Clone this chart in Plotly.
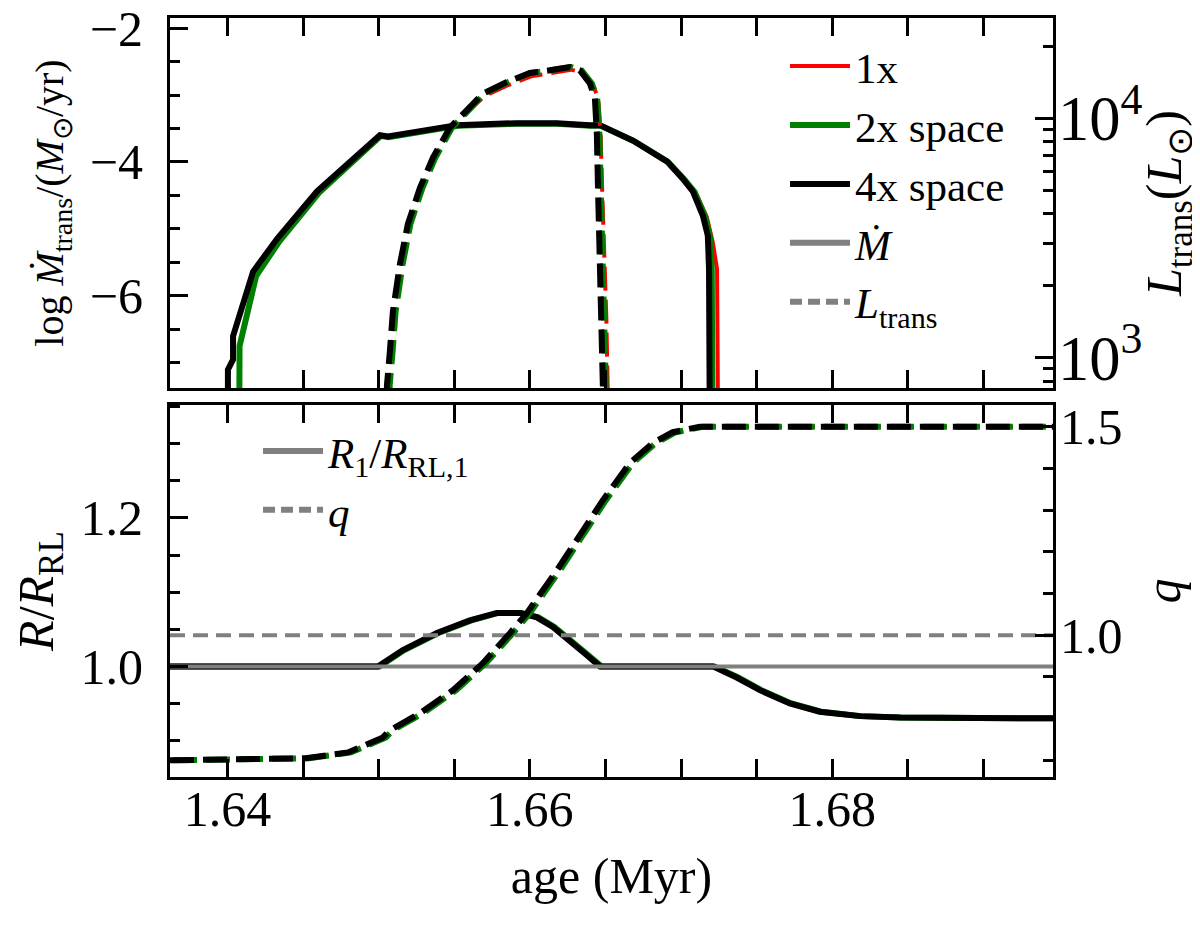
import plotly.graph_objects as go
from plotly.subplots import make_subplots

# -----------------------------
# DATA
# -----------------------------
AGE_RANGE = [1.6362, 1.6946]

# log(Mdot_trans / Msun/yr), left axis of the upper panel
mdot_age_4x = [1.64003, 1.64003, 1.64037, 1.64037, 1.64169, 1.64327, 1.64592, 1.64830, 1.65008, 1.65061,
               1.65425, 1.65517, 1.65914, 1.66179, 1.66397, 1.66463, 1.66681, 1.66906, 1.67011, 1.67078,
               1.67144, 1.67177, 1.67185, 1.67190]
mdot_4x = [-8.0, -7.1, -6.95, -6.60, -5.64, -5.15, -4.44, -3.95, -3.60, -3.62,
           -3.48, -3.45, -3.42, -3.42, -3.45, -3.45, -3.68, -3.99, -4.25, -4.44,
           -4.80, -5.10, -5.60, -8.0]
mdot_age_2x = [1.64078, 1.64080, 1.64190, 1.64345, 1.64605, 1.64840, 1.65015, 1.65065,
               1.65428, 1.65520, 1.65914, 1.66179, 1.66400, 1.66470, 1.66690, 1.66915, 1.67022, 1.67090,
               1.67160, 1.67195, 1.67203, 1.67208]
mdot_2x = [-8.0, -6.75, -5.70, -5.18, -4.46, -3.97, -3.61, -3.63,
           -3.49, -3.46, -3.43, -3.43, -3.46, -3.46, -3.69, -4.00, -4.26, -4.45,
           -4.82, -5.15, -5.60, -8.0]
mdot_age_1x = [1.64078, 1.64080, 1.64190, 1.64345, 1.64605, 1.64840, 1.65015, 1.65065,
               1.65428, 1.65520, 1.65914, 1.66179, 1.66400, 1.66470, 1.66690, 1.66915, 1.67022, 1.67095,
               1.67170, 1.67210, 1.67238, 1.67245]
mdot_1x = [-8.0, -6.75, -5.70, -5.18, -4.46, -3.97, -3.61, -3.63,
           -3.49, -3.46, -3.43, -3.43, -3.46, -3.46, -3.69, -4.00, -4.26, -4.45,
           -4.82, -5.20, -5.60, -8.0]

# L_trans (Lsun), right log axis of the upper panel
ltr_age_4x = [1.65050, 1.65055, 1.65074, 1.65094, 1.65141, 1.65193, 1.65273, 1.65359, 1.65471, 1.65557,
              1.65689, 1.65848, 1.66000, 1.66132, 1.66264, 1.66331, 1.66397, 1.66430, 1.66443, 1.66450,
              1.66463, 1.66476, 1.66490]
ltr_4x = [500, 770, 1060, 1560, 2470, 3620, 5130, 6860, 9160, 10500,
          12700, 14200, 15500, 15900, 16400, 15900, 14000, 12200, 8650, 5330,
          2790, 1460, 500]
ltr_age_2x = [1.65068, 1.65073, 1.65092, 1.65112, 1.65159, 1.65210, 1.65290, 1.65375, 1.65485, 1.65570,
              1.65700, 1.65858, 1.66008, 1.66140, 1.66272, 1.66342, 1.66410, 1.66445, 1.66460, 1.66468,
              1.66482, 1.66496, 1.66510]
ltr_2x = [500, 770, 1060, 1560, 2470, 3620, 5130, 6860, 9160, 10500,
          12700, 14200, 15500, 15900, 16400, 15900, 14000, 12200, 8650, 5330,
          2790, 1460, 500]
ltr_age_1x = [1.65068, 1.65073, 1.65092, 1.65112, 1.65159, 1.65210, 1.65290, 1.65375, 1.65485, 1.65570,
              1.65700, 1.65858, 1.66008, 1.66140, 1.66272, 1.66345, 1.66415, 1.66452, 1.66468, 1.66477,
              1.66492, 1.66506, 1.66520]
ltr_1x = [500, 770, 1060, 1560, 2470, 3620, 5130, 6860, 9160, 10400,
          12400, 13800, 15000, 15500, 16000, 15600, 13900, 12200, 8650, 5330,
          2790, 1460, 500]

# R1 / R_RL,1, left axis of the lower panel
rad_age_4x = [1.6362, 1.64995, 1.65160, 1.65385, 1.65603, 1.65782, 1.65934, 1.66046, 1.66152, 1.66264,
              1.66377, 1.66463, 1.67210, 1.67368, 1.67521, 1.67719, 1.67917, 1.68182, 1.68446, 1.6946]
rad_4x = [1.000, 1.000, 1.022, 1.045, 1.062, 1.072, 1.072, 1.066, 1.053, 1.035,
          1.015, 1.000, 1.000, 0.985, 0.968, 0.950, 0.939, 0.933, 0.931, 0.930]
rad_age_2x = [1.6362, 1.65005, 1.65170, 1.65395, 1.65613, 1.65792, 1.65944, 1.66056, 1.66162, 1.66274,
              1.66387, 1.66473, 1.67220, 1.67378, 1.67531, 1.67729, 1.67927, 1.68192, 1.68456, 1.6946]
rad_2x = [1.000, 1.000, 1.022, 1.045, 1.062, 1.072, 1.072, 1.066, 1.053, 1.035,
          1.015, 1.000, 1.000, 0.985, 0.968, 0.950, 0.939, 0.933, 0.931, 0.930]

# mass ratio q, right axis of the lower panel
q_age_4x = [1.6362, 1.64519, 1.64797, 1.65028, 1.65074, 1.65273, 1.65491, 1.65689, 1.65868,
            1.65980, 1.66179, 1.66350, 1.66483, 1.66661, 1.66813, 1.66945, 1.67124, 1.6946]
q_4x = [0.700, 0.705, 0.719, 0.755, 0.772, 0.813, 0.868, 0.933, 1.005,
        1.053, 1.156, 1.252, 1.324, 1.413, 1.461, 1.487, 1.500, 1.500]
q_age_2x = [1.6364, 1.64539, 1.64817, 1.65048, 1.65094, 1.65293, 1.65511, 1.65709, 1.65888,
            1.66000, 1.66199, 1.66370, 1.66503, 1.66681, 1.66833, 1.66965, 1.67144, 1.6948]
q_2x = [0.700, 0.705, 0.719, 0.755, 0.772, 0.813, 0.868, 0.933, 1.005,
        1.053, 1.156, 1.252, 1.324, 1.413, 1.461, 1.487, 1.500, 1.500]

RADIUS_REF = 1.0
Q_REF = 1.0

FONT = "Liberation Serif"
DASH = "24px,9px"
GREY = "#808080"


# -----------------------------
# BUILD FIGURE
# -----------------------------
def build_figure():

    fig = make_subplots(
        rows=2, cols=1, shared_xaxes=True,
        specs=[[{"secondary_y": True}], [{"secondary_y": True}]]
    )

    runs = [
        ("1x", "red", 4, mdot_age_1x, mdot_1x, ltr_age_1x, ltr_1x, rad_age_2x, rad_2x, q_age_2x, q_2x),
        ("2x space", "green", 6, mdot_age_2x, mdot_2x, ltr_age_2x, ltr_2x, rad_age_2x, rad_2x, q_age_2x, q_2x),
        ("4x space", "black", 6, mdot_age_4x, mdot_4x, ltr_age_4x, ltr_4x, rad_age_4x, rad_4x, q_age_4x, q_4x),
    ]

    # upper panel: Mdot (solid, left) and L_trans (dashed, right)
    for name, color, width, ma, mv, la, lv, ra, rv, qa, qv in runs:
        fig.add_trace(go.Scatter(
            x=ma, y=mv, name=name, mode="lines", legend="legend",
            line=dict(color=color, width=width)
        ), row=1, col=1, secondary_y=False)

    fig.add_trace(go.Scatter(
        x=[None], y=[None], name="<i>Ṁ</i>", mode="lines", legend="legend",
        line=dict(color=GREY, width=6)
    ), row=1, col=1, secondary_y=False)
    fig.add_trace(go.Scatter(
        x=[None], y=[None], name="<i>L</i><sub>trans</sub>", mode="lines", legend="legend",
        line=dict(color=GREY, width=6, dash="12px,6px")
    ), row=1, col=1, secondary_y=False)

    for name, color, width, ma, mv, la, lv, ra, rv, qa, qv in runs:
        fig.add_trace(go.Scatter(
            x=la, y=lv, name=name, mode="lines", showlegend=False,
            line=dict(color=color, width=width, dash=DASH)
        ), row=1, col=1, secondary_y=True)

    # lower panel: R/R_RL (solid, left) and q (dashed, right)
    for name, color, width, ma, mv, la, lv, ra, rv, qa, qv in runs:
        fig.add_trace(go.Scatter(
            x=ra, y=rv, name=name, mode="lines", showlegend=False,
            line=dict(color=color, width=width)
        ), row=2, col=1, secondary_y=False)

    fig.add_trace(go.Scatter(
        x=AGE_RANGE, y=[RADIUS_REF, RADIUS_REF], mode="lines", showlegend=False,
        line=dict(color=GREY, width=4)
    ), row=2, col=1, secondary_y=False)

    fig.add_trace(go.Scatter(
        x=AGE_RANGE, y=[Q_REF, Q_REF], mode="lines", showlegend=False,
        line=dict(color=GREY, width=4, dash="15px,8px")
    ), row=2, col=1, secondary_y=True)

    for name, color, width, ma, mv, la, lv, ra, rv, qa, qv in runs:
        fig.add_trace(go.Scatter(
            x=qa, y=qv, name=name, mode="lines", showlegend=False,
            line=dict(color=color, width=width, dash=DASH)
        ), row=2, col=1, secondary_y=True)

    fig.add_trace(go.Scatter(
        x=[None], y=[None], name="<i>R</i><sub>1</sub>/<i>R</i><sub>RL,1</sub>",
        mode="lines", legend="legend2", line=dict(color=GREY, width=6)
    ), row=2, col=1, secondary_y=False)
    fig.add_trace(go.Scatter(
        x=[None], y=[None], name="<i>q</i>",
        mode="lines", legend="legend2", line=dict(color=GREY, width=6, dash="12px,6px")
    ), row=2, col=1, secondary_y=False)

    # -----------------------------
    # AXES
    # -----------------------------
    tick_font = dict(family=FONT, size=50, color="black")
    title_font = dict(family=FONT, size=50, color="black")
    minor_ticks = dict(ticks="inside", ticklen=10, tickwidth=2.5, tickcolor="black")
    common = dict(
        showline=True, linecolor="black", linewidth=3,
        ticks="inside", ticklen=18, tickwidth=2.5, tickcolor="black",
        showgrid=False, zeroline=False, tickfont=tick_font, automargin=False,
        ticklabeloverflow="allow",
    )

    for row in (1, 2):
        fig.update_xaxes(
            range=AGE_RANGE, tick0=1.64, dtick=0.02, tickformat=".2f",
            mirror="allticks", ticklabelstandoff=-14,
            minor=dict(dtick=0.005, **minor_ticks),
            row=row, col=1, **common
        )
    fig.update_xaxes(showticklabels=False, row=1, col=1)
    fig.update_xaxes(
        title=dict(text="age (Myr)", font=title_font, standoff=22),
        row=2, col=1
    )

    fig.update_yaxes(
        range=[-7.375, -1.85], tick0=0, dtick=2, ticklabelstandoff=14,
        minor=dict(dtick=0.5, **minor_ticks),
        title=dict(text="log <i>Ṁ</i><sub>trans</sub>/(<i>M</i><sub>⊙</sub>/yr)",
                   font=dict(family=FONT, size=40, color="black"), standoff=14),
        row=1, col=1, secondary_y=False, **common
    )
    fig.update_yaxes(
        type="log", range=[2.874, 4.42], dtick=1, exponentformat="power",
        ticklabelstandoff=-8,
        minor=dict(dtick="D1", **minor_ticks),
        title=dict(text="<i>L</i><sub>trans</sub>(<i>L</i><sub>⊙</sub>)", font=title_font, standoff=0),
        row=1, col=1, secondary_y=True, **common
    )
    fig.update_yaxes(
        range=[0.851, 1.352], tick0=0, dtick=0.2, tickformat=".1f", ticklabelstandoff=14,
        minor=dict(dtick=0.05, **minor_ticks),
        title=dict(text="<i>R</i>/<i>R</i><sub>RL</sub>", font=title_font, standoff=16),
        row=2, col=1, secondary_y=False, **common
    )
    fig.update_yaxes(
        range=[0.66, 1.552], tick0=0, dtick=0.5, tickformat=".1f", ticklabelstandoff=-6,
        minor=dict(dtick=0.1, **minor_ticks),
        title=dict(text="<i>q</i>", font=title_font, standoff=24),
        row=2, col=1, secondary_y=True, **common
    )

    # panel placement
    fig.update_layout(
        xaxis=dict(domain=[0, 1]),
        xaxis2=dict(domain=[0, 1]),
        yaxis=dict(domain=[0.5125, 1.0]),
        yaxis2=dict(domain=[0.5125, 1.0]),
        yaxis3=dict(domain=[0.0, 0.490]),
        yaxis4=dict(domain=[0.0, 0.490]),
    )

    legend_style = dict(
        font=dict(family=FONT, size=43, color="black"),
        bgcolor="rgba(0,0,0,0)", borderwidth=0,
        xanchor="left", yanchor="top", itemwidth=60, traceorder="normal",
    )
    # the page puts the figure 8px in from the top-left corner, so the
    # figure is made 8px smaller to keep it inside the window
    fig.update_layout(
        width=1192, height=919,
        margin=dict(l=162, r=147, t=10, b=150),
        paper_bgcolor="white", plot_bgcolor="white",
        font=dict(family=FONT, size=50, color="black"),
        legend=dict(x=0.6965, y=0.982, **legend_style),
        legend2=dict(x=0.0997, y=0.475, **legend_style),
    )

    return fig


if __name__ == "__main__":
    fig = build_figure()
    fig.write_html("out.html")
